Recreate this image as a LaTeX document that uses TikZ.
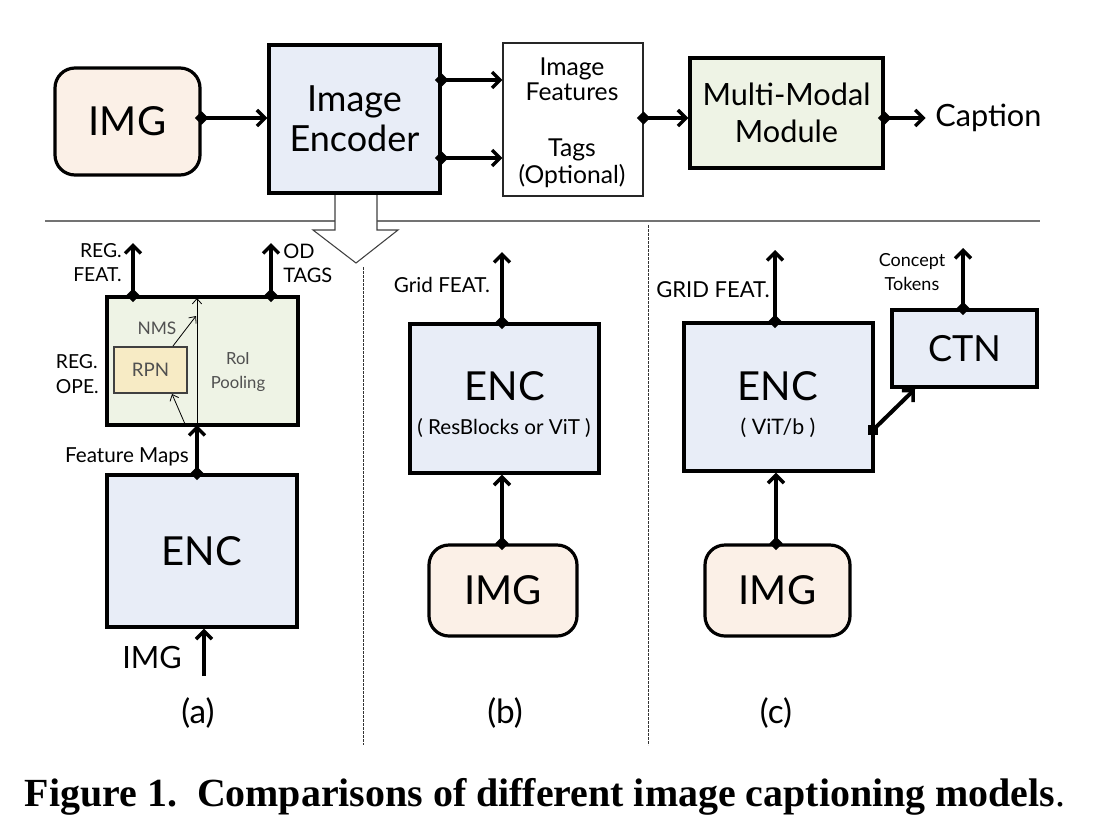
\documentclass[tikz,border=0pt]{standalone}
\usepackage{fontspec}
\setmainfont{Lato}
\newfontfamily\capfont{Liberation Serif}
\usetikzlibrary{arrows.meta,fit,positioning}
\definecolor{imgc}{HTML}{FBF0E7}
\definecolor{encc}{HTML}{E8EDF7}
\definecolor{mmc}{HTML}{EEF3E5}
\definecolor{rpnc}{HTML}{F7EBC5}
\definecolor{greytxt}{HTML}{505050}
\newcommand\fs[2]{\fontsize{#1}{#2}\selectfont}
\tikzset{
  box/.style={draw, line width=2.4pt, inner sep=0pt, align=center},
  imgbox/.style={box, rounded corners=15pt, fill=imgc},
  encbox/.style={box, fill=encc},
  conn/.style={line width=3pt, {Diamond[length=10pt,width=10pt]}-{Straight Barb[length=6pt,width=12pt,line width=2.6pt]}, shorten <=-5pt},
  arr/.style={line width=3pt, -{Straight Barb[length=6pt,width=12pt,line width=2.6pt]}},
  thinarr/.style={line width=0.6pt, -{Straight Barb[length=4pt,width=7pt,line width=0.6pt]}},
  lbl/.style={inner sep=0pt, align=center},
  dashline/.style={line width=0.6pt, dash pattern=on 2pt off 1pt, draw=black!80},
}
\begin{document}
\begin{tikzpicture}[x=0.75pt,y=-0.75pt]
\useasboundingbox (0,0) rectangle (1100,826);
% ---------- top row ----------
\node[imgbox, fit={(55,68)(200,175)}] (img) {};
\node[lbl, font=\fs{30}{34}] (imgt) at (img.center) {IMG};
\node[encbox, fit={(269,45)(440,193)}] (enc) {};
\node[lbl, font=\fs{27}{30}] (enct) at (enc.center) {Image\\Encoder};
\node[box, line width=0.8pt, draw=black!85, fit={(503,43)(643,196)}] (feat) {};
\node[lbl, font=\fs{18.5}{19}] (featt) at (572,79) {Image\\Features};
\node[lbl, font=\fs{18.5}{20}] (tagt) at (572,163) {Tags\\(Optional)};
\node[box, fill=mmc, fit={(690,58)(883,168)}] (mm) {};
\node[lbl, font=\fs{23}{28}] (mmt) at (mm.center) {Multi-Modal\\Module};
\node[anchor=west, inner sep=0pt, font=\fs{23}{27}] (cap) at (935,118) {Caption};
\coordinate (y118) at (0,118);
\coordinate (y80) at (0,80);
\coordinate (y158) at (0,158);
\draw[conn] (img.east |- y118) -- (enc.west |- y118);
\draw[conn] (enc.east |- y80) -- (feat.west |- y80);
\draw[conn] (enc.east |- y158) -- (feat.west |- y158);
\draw[conn] (feat.east |- y118) -- (mm.west |- y118);
\draw[conn] (mm.east |- y118) -- ([xshift=-7pt]cap.west);
% separator
\draw[line width=1.1pt, draw=black!55] (45,221) -- (1040,221);
% big hollow arrow
\draw[fill=white, draw=black!75, line width=0.8pt] (335,195) -- (335,230) -- (313,230) -- (356,263) -- (398,230) -- (377,230) -- (377,195);
% dashed separators
\draw[dashline] (363,267) -- (363,745);
\draw[dashline] (648,225) -- (648,745);
% ---------- panel (a) ----------
\node[box, fill=mmc, fit={(107,297)(298,425)}] (roi) {};
\node[box, line width=0.9pt, draw=black!75, fill=rpnc, fit={(114,347)(187,393)}] (rpn) {};
\node[lbl, font=\fs{14}{16}, text=greytxt] (rpnt) at (rpn.center) {RPN};
\node[lbl, font=\fs{13}{15}, text=greytxt] (nms) at (157,328) {NMS};
\node[lbl, font=\fs{12.5}{18}, text=greytxt] (pool) at (238,372) {RoI\\Pooling};
\coordinate (vb) at (197,425);
\coordinate (vt) at (197,298);
\draw[thinarr] (vb) -- (vt);
\coordinate (nmsend) at (196,316);
\coordinate (rpnout) at (173,346);
\draw[thinarr] (rpnout) -- (nmsend);
\coordinate (rpnin) at (172,394);
\coordinate (roiin) at (185,424);
\draw[thinarr] (roiin) -- (rpnin);
\node[lbl, font=\fs{14.5}{19}, align=left, anchor=east] (regope) at (99,374) {REG.\\OPE.};
\coordinate (rf) at (133,243);
\coordinate (od) at (271,243);
\draw[conn] (rf |- roi.north) -- (rf);
\draw[conn] (od |- roi.north) -- (od);
\node[lbl, font=\fs{14.5}{18}, align=right, anchor=east] (regfeat) at (122,263) {REG.\\FEAT.};
\node[lbl, font=\fs{15}{18}, align=left, anchor=west] (odtags) at (283,263) {OD\\TAGS};
\node[encbox, fit={(107,475)(297,627)}] (encA) {};
\node[lbl, font=\fs{30}{34}] (encAt) at (encA.center) {ENC};
\draw[conn] (vb |- encA.north) -- (vb);
\node[lbl, font=\fs{15.5}{18}] (fm) at (127,457) {Feature Maps};
\coordinate (ia) at (204,676);
\draw[arr] (ia) -- (ia |- encA.south);
\node[lbl, font=\fs{23}{26}] (imgA) at (152,658) {IMG};
\node[lbl, font=\fs{25}{28}] (la) at (198,713) {(a)};
% ---------- panel (b) ----------
\node[encbox, fit={(410,324)(599,473)}] (encB) {};
\node[lbl, font=\fs{30}{34}] (encBt) at (505,386) {ENC};
\node[lbl, font=\fs{15.5}{17}] (encBs) at (504,428) {( ResBlocks or ViT )};
\coordinate (gb) at (502,252);
\draw[conn] (gb |- encB.north) -- (gb);
\node[lbl, font=\fs{15.5}{18}] (gbt) at (442,285) {Grid FEAT.};
\node[imgbox, fit={(429,545)(577,636)}] (imgB) {};
\node[lbl, font=\fs{30}{34}] (imgBt) at (imgB.center) {IMG};
\draw[conn] (gb |- imgB.north) -- (gb |- encB.south);
\node[lbl, font=\fs{25}{28}] (lb) at (505,713) {(b)};
% ---------- panel (c) ----------
\node[encbox, fit={(684,323)(873,471)}] (encC) {};
\node[lbl, font=\fs{30}{34}] (encCt) at (778,386) {ENC};
\node[lbl, font=\fs{16}{18}] (encCs) at (778,428) {( ViT/b )};
\coordinate (gc) at (775,250);
\draw[conn] (gc |- encC.north) -- (gc);
\node[lbl, font=\fs{16.5}{18}] (gct) at (713,290) {GRID FEAT.};
\node[encbox, fit={(892,310)(1037,387)}] (ctn) {};
\node[lbl, font=\fs{27}{30}] (ctnt) at (ctn.center) {CTN};
\coordinate (ct) at (963,248);
\draw[conn] (ct |- ctn.north) -- (ct);
\node[lbl, font=\fs{13.5}{18}] (ctt) at (912,272) {Concept\\Tokens};
\node[fill=black, inner sep=0pt, minimum size=7pt] (sq) at (873,430) {};
\coordinate (ctnin) at (915,389);
\draw[arr] (sq.center) -- (ctnin);
\node[imgbox, fit={(705,545)(850,636)}] (imgC) {};
\node[lbl, font=\fs{30}{34}] (imgCt) at (imgC.center) {IMG};
\coordinate (ic) at (776,0);
\draw[conn] (ic |- imgC.north) -- (ic |- encC.south);
\node[lbl, font=\fs{25}{28}] (lc) at (776,713) {(c)};
% ---------- caption ----------
\node[inner sep=0pt] (figcap) at (545,797) {\resizebox{780pt}{!}{\capfont\textbf{Figure 1.\ \ Comparisons of different image captioning models}.}};
\end{tikzpicture}
\end{document}
